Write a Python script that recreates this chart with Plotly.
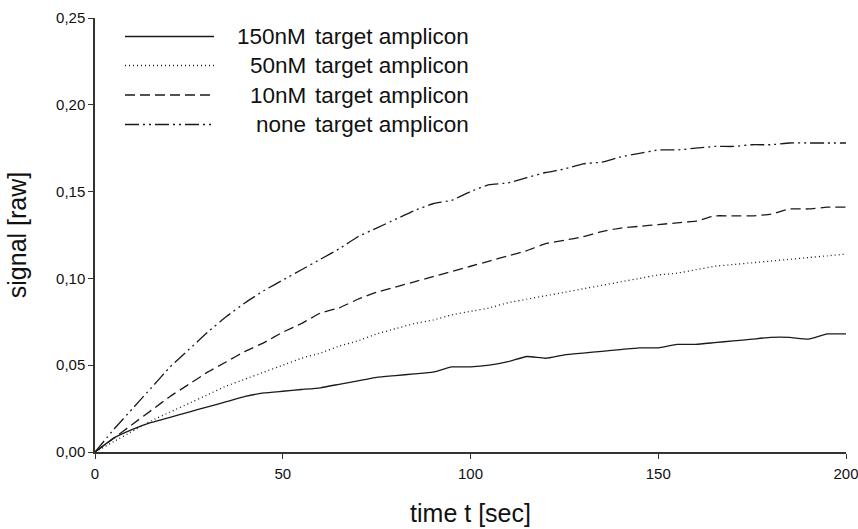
import plotly.graph_objects as go

# ---- data ----
time_s = [0, 5, 10, 15, 20, 25, 30, 35, 40, 45, 50, 55, 60, 65, 70, 75, 80, 85, 90, 95, 100,
          105, 110, 115, 120, 125, 130, 135, 140, 145, 150, 155, 160, 165, 170, 175, 180, 185, 190, 195, 200]

sig_150nM = [0, 0.008, 0.013, 0.017, 0.020, 0.023, 0.026, 0.029, 0.032, 0.034, 0.035, 0.036, 0.037,
             0.039, 0.041, 0.043, 0.044, 0.045, 0.046, 0.049, 0.049, 0.050, 0.052, 0.055, 0.054,
             0.056, 0.057, 0.058, 0.059, 0.060, 0.060, 0.062, 0.062, 0.063, 0.064, 0.065, 0.066,
             0.066, 0.065, 0.068, 0.068]
sig_50nM = [0, 0.006, 0.012, 0.018, 0.023, 0.028, 0.033, 0.038, 0.042, 0.046, 0.050, 0.054, 0.057,
            0.061, 0.064, 0.068, 0.071, 0.074, 0.076, 0.079, 0.081, 0.083, 0.086, 0.088, 0.090,
            0.092, 0.094, 0.096, 0.098, 0.100, 0.102, 0.103, 0.105, 0.107, 0.108, 0.109, 0.110,
            0.111, 0.112, 0.113, 0.114]
sig_10nM = [0, 0.008, 0.016, 0.024, 0.032, 0.039, 0.046, 0.052, 0.058, 0.063, 0.069, 0.074, 0.080,
            0.083, 0.088, 0.092, 0.095, 0.098, 0.101, 0.104, 0.107, 0.110, 0.113, 0.116, 0.120,
            0.122, 0.124, 0.127, 0.129, 0.130, 0.131, 0.132, 0.133, 0.136, 0.136, 0.136, 0.137,
            0.140, 0.140, 0.141, 0.141]
sig_none = [0, 0.013, 0.025, 0.037, 0.049, 0.059, 0.069, 0.078, 0.086, 0.093, 0.099, 0.105, 0.111,
            0.117, 0.124, 0.129, 0.134, 0.139, 0.143, 0.145, 0.150, 0.154, 0.155, 0.158, 0.161,
            0.163, 0.166, 0.167, 0.170, 0.172, 0.174, 0.174, 0.175, 0.176, 0.176, 0.177, 0.177,
            0.178, 0.178, 0.178, 0.178]

conc_labels = ["150nM", "50nM", "10nM", "none"]
label_suffix = "target amplicon"
series = [sig_150nM, sig_50nM, sig_10nM, sig_none]

y_ticks = [0, 0.05, 0.10, 0.15, 0.20, 0.25]
x_ticks = [0, 50, 100, 150, 200]

# ---- styling ----
W, H = 858, 529
ML, MR, MT, MB = 95, 12, 18, 77
FONT = "Liberation Sans, Arial, sans-serif"
LINE_COL = "#1a1a1a"
dashes = ["solid", "1px,3px", "10px,5px", "14px,4px,2px,4px,2px,4px"]

fig = go.Figure()
for name, ys, d in zip(conc_labels, series, dashes):
    fig.add_trace(go.Scatter(x=time_s, y=ys, mode="lines", name=f"{name} {label_suffix}",
                             line=dict(color=LINE_COL, width=1.3, dash=d, shape="spline", smoothing=0.4),
                             showlegend=False))

pw = W - ML - MR
ph = H - MT - MB
def px_x(p):
    return (p - ML) / pw
def px_y(p):
    return 1 - (p - MT) / ph

# manual legend (long line samples like the original)
leg_rows = [36.5, 65.5, 95, 124.5]
shapes = []
annots = []
for i, (name, d) in enumerate(zip(conc_labels, dashes)):
    yy = px_y(leg_rows[i])
    shapes.append(dict(type="line", xref="paper", yref="paper", x0=px_x(125), x1=px_x(214), y0=yy, y1=yy,
                       line=dict(color=LINE_COL, width=1.3, dash=d)))
    annots.append(dict(xref="paper", yref="paper", x=px_x(308), y=yy, text=name, showarrow=False,
                       xanchor="right", yanchor="middle", font=dict(family=FONT, size=22.5, color="#111")))
    annots.append(dict(xref="paper", yref="paper", x=px_x(313), y=yy, text=label_suffix, showarrow=False,
                       xanchor="left", yanchor="middle", font=dict(family=FONT, size=22.5, color="#111")))

fig.update_layout(
    width=W, height=H,
    margin=dict(l=ML, r=MR, t=MT, b=MB, pad=0, autoexpand=False),
    paper_bgcolor="white", plot_bgcolor="white",
    separators=",.",
    shapes=shapes, annotations=annots,
    font=dict(family=FONT, color="#111"),
)
fig.update_xaxes(range=[0, 200], tickvals=x_ticks, showgrid=False, zeroline=False,
                 showline=True, linecolor="#333", linewidth=1.5, automargin=False,
                 ticks="outside", ticklen=5, tickwidth=1.3, tickcolor="#333",
                 ticklabelstandoff=2, ticklabeloverflow="allow",
                 tickfont=dict(family=FONT, size=15, color="#111"),
                 title=dict(text="time t [sec]", font=dict(family=FONT, size=25, color="#111"), standoff=24))
fig.update_yaxes(range=[0, 0.25], tickvals=y_ticks, tickformat=".2f", showgrid=False, zeroline=False,
                 showline=True, linecolor="#333", linewidth=1.5, automargin=False,
                 ticks="outside", ticklen=5, tickwidth=1.3, tickcolor="#333",
                 ticklabeloverflow="allow",
                 tickfont=dict(family=FONT, size=15, color="#111"),
                 title=dict(text="signal [raw]", font=dict(family=FONT, size=25, color="#111"), standoff=22))

fig.write_html("out.html")
